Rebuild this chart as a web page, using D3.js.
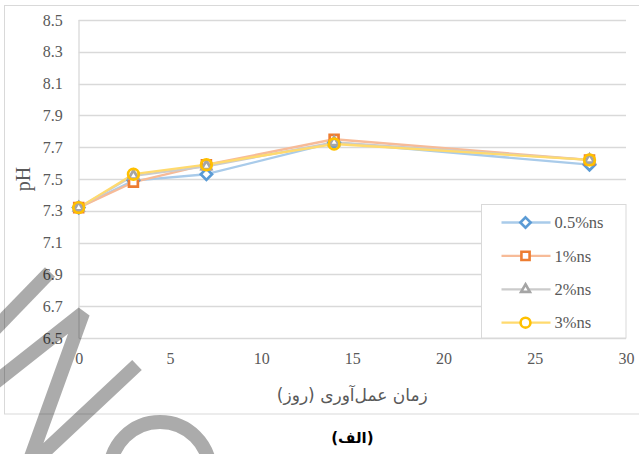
<!DOCTYPE html>
<html>
<head>
<meta charset="utf-8">
<script src="https://cdn.jsdelivr.net/npm/d3@7"></script>
<style>
  body { margin: 0; background: #fff; }
  svg { display: block; }
</style>
</head>
<body>
<svg id="chart"></svg>
<script>
// curing days and pH per series
var days = [0, 3, 7, 14, 28];
var ph05 = [7.32, 7.49, 7.53, 7.73, 7.59];
var ph1 = [7.32, 7.48, 7.59, 7.75, 7.62];
var ph2 = [7.32, 7.52, 7.58, 7.73, 7.62];
var ph3 = [7.32, 7.53, 7.59, 7.72, 7.62];
var seriesNames = ["0.5%ns", "1%ns", "2%ns", "3%ns"];
var yTicks = [6.5, 6.7, 6.9, 7.1, 7.3, 7.5, 7.7, 7.9, 8.1, 8.3, 8.5];
var xTicks = [0, 5, 10, 15, 20, 25, 30];
var xTitle = "زمان عمل‌آوری (روز)";
var yTitle = "pH";
var caption = "(الف)";

var W = 639, H = 454;
var margin = {left: 78.7, right: 13, top: 20, bottom: 116};
var width = W - margin.left - margin.right;
var height = H - margin.top - margin.bottom;

var styles = [
    {line: "#a9cbea", mark: "#5b9bd5", shape: d3.symbolDiamond2, size: 80, fill: "#fff"},
    {line: "#f7bb98", mark: "#ed7d31", shape: d3.symbolSquare2, size: 100, fill: "#fff"},
    {line: "#cbcbcb", mark: "#a5a5a5", shape: d3.symbolTriangle2, size: 65, fill: "#fff"},
    {line: "#ffda6e", mark: "#ffc000", shape: d3.symbolCircle, size: 90, fill: "none"}
];
var series = [ph05, ph1, ph2, ph3].map(function(vals, i) {
    return {name: seriesNames[i], style: styles[i], pts: days.map(function(d, j) { return {x: d, y: vals[j]}; })};
});

var svg = d3.select("#chart").attr("width", W).attr("height", H);

// chart area border
svg.append("rect")
    .attr("x", 4.5).attr("y", 5.5)
    .attr("width", 640).attr("height", 408.5)
    .attr("fill", "#fff").attr("stroke", "#d9d9d9");

var xs = d3.scaleLinear().domain([0, 30]).range([0, width]);
var ys = d3.scaleLinear().domain([6.5, 8.5]).range([height, 0]);

var g = svg.append("g").attr("transform", "translate(" + margin.left + "," + margin.top + ")");

// gridlines
g.selectAll(".grid")
    .data(yTicks)
    .enter()
    .append("line")
        .attr("x1", 0).attr("x2", width)
        .attr("y1", d => Math.round(ys(d)) + 0.5)
        .attr("y2", d => Math.round(ys(d)) + 0.5)
        .attr("stroke", "#d9d9d9").attr("stroke-width", 1.3);

g.append("line")
    .attr("x1", 0.3).attr("x2", 0.3)
    .attr("y1", 0).attr("y2", height)
    .attr("stroke", "#d9d9d9").attr("stroke-width", 1.3);

var yAxis = g.append("g")
    .call(d3.axisLeft(ys).tickValues(yTicks).tickFormat(d3.format(".1f")).tickSize(0).tickPadding(16));
var xAxis = g.append("g")
    .attr("transform", "translate(0," + height + ")")
    .call(d3.axisBottom(xs).tickValues(xTicks).tickSize(0).tickPadding(15));
[yAxis, xAxis].forEach(function(a) {
    a.select(".domain").remove();
    a.attr("font-family", null).attr("font-size", null);
    a.selectAll("text")
        .attr("fill", "#595959")
        .style("font-family", "'Liberation Serif', serif")
        .style("font-size", "16px");
});

// lines and markers
var line = d3.line().x(d => xs(d.x)).y(d => ys(d.y));
series.forEach(function(s) {
    g.append("path")
        .datum(s.pts)
        .attr("d", line)
        .attr("fill", "none")
        .attr("stroke", s.style.line)
        .attr("stroke-width", 2.3)
        .attr("stroke-linejoin", "round");
});
series.forEach(function(s) {
    g.selectAll(null)
        .data(s.pts)
        .enter()
        .append("path")
            .attr("transform", d => "translate(" + xs(d.x) + "," + ys(d.y) + ")")
            .attr("d", d3.symbol().type(s.style.shape).size(s.style.size))
            .attr("fill", s.style.fill)
            .attr("stroke", s.style.mark)
            .attr("stroke-width", 2.7);
});

// legend
var lg = svg.append("g").attr("transform", "translate(481.5,204.5)");
lg.append("rect")
    .attr("width", 144.5).attr("height", 133.5)
    .attr("fill", "#fff").attr("stroke", "#d9d9d9");
var item = lg.selectAll(".item")
    .data(series)
    .enter()
    .append("g")
        .attr("transform", (d, i) => "translate(0," + (18 + i * 33.4) + ")");
item.append("line")
    .attr("x1", 20).attr("x2", 69)
    .attr("stroke", d => d.style.line).attr("stroke-width", 2.3);
item.append("path")
    .attr("transform", "translate(44,0)")
    .attr("d", d => d3.symbol().type(d.style.shape).size(d.style.size * 0.85)())
    .attr("fill", "#fff")
    .attr("stroke", d => d.style.mark).attr("stroke-width", 2.6);
item.append("text")
    .attr("x", 73).attr("dy", "0.35em")
    .attr("fill", "#595959")
    .style("font-family", "'Liberation Serif', serif")
    .style("font-size", "16.5px")
    .text(d => d.name);

// axis titles
svg.append("text")
    .attr("transform", "translate(30," + (margin.top + height / 2) + ") rotate(-90)")
    .style("text-anchor", "middle")
    .attr("fill", "#595959")
    .style("font-family", "'Liberation Serif', serif")
    .style("font-size", "20px")
    .text(yTitle);

svg.append("text")
    .attr("x", margin.left + width / 2).attr("y", 401)
    .style("text-anchor", "middle")
    .attr("direction", "rtl")
    .attr("fill", "#595959")
    .style("font-family", "'DejaVu Sans', sans-serif")
    .style("font-size", "17px")
    .text(xTitle);

svg.append("text")
    .attr("x", margin.left + width / 2).attr("y", 443)
    .style("text-anchor", "middle")
    .attr("direction", "rtl")
    .attr("fill", "#000")
    .style("font-family", "'DejaVu Sans', sans-serif")
    .style("font-weight", "bold")
    .style("font-size", "15px")
    .text(caption);

// watermark strokes over the picture
var wm = svg.append("g")
    .attr("fill", "none")
    .attr("stroke", "#000")
    .attr("stroke-opacity", 0.33)
    .attr("stroke-width", 14);
wm.append("path").attr("d", "M-10,334 L50,272");
wm.append("path")
    .attr("d", "M-12,388 L83,313 L27,468 L137,365")
    .attr("stroke-linejoin", "bevel");
wm.append("circle").attr("cx", 160).attr("cy", 472).attr("r", 50);
</script>
</body>
</html>
